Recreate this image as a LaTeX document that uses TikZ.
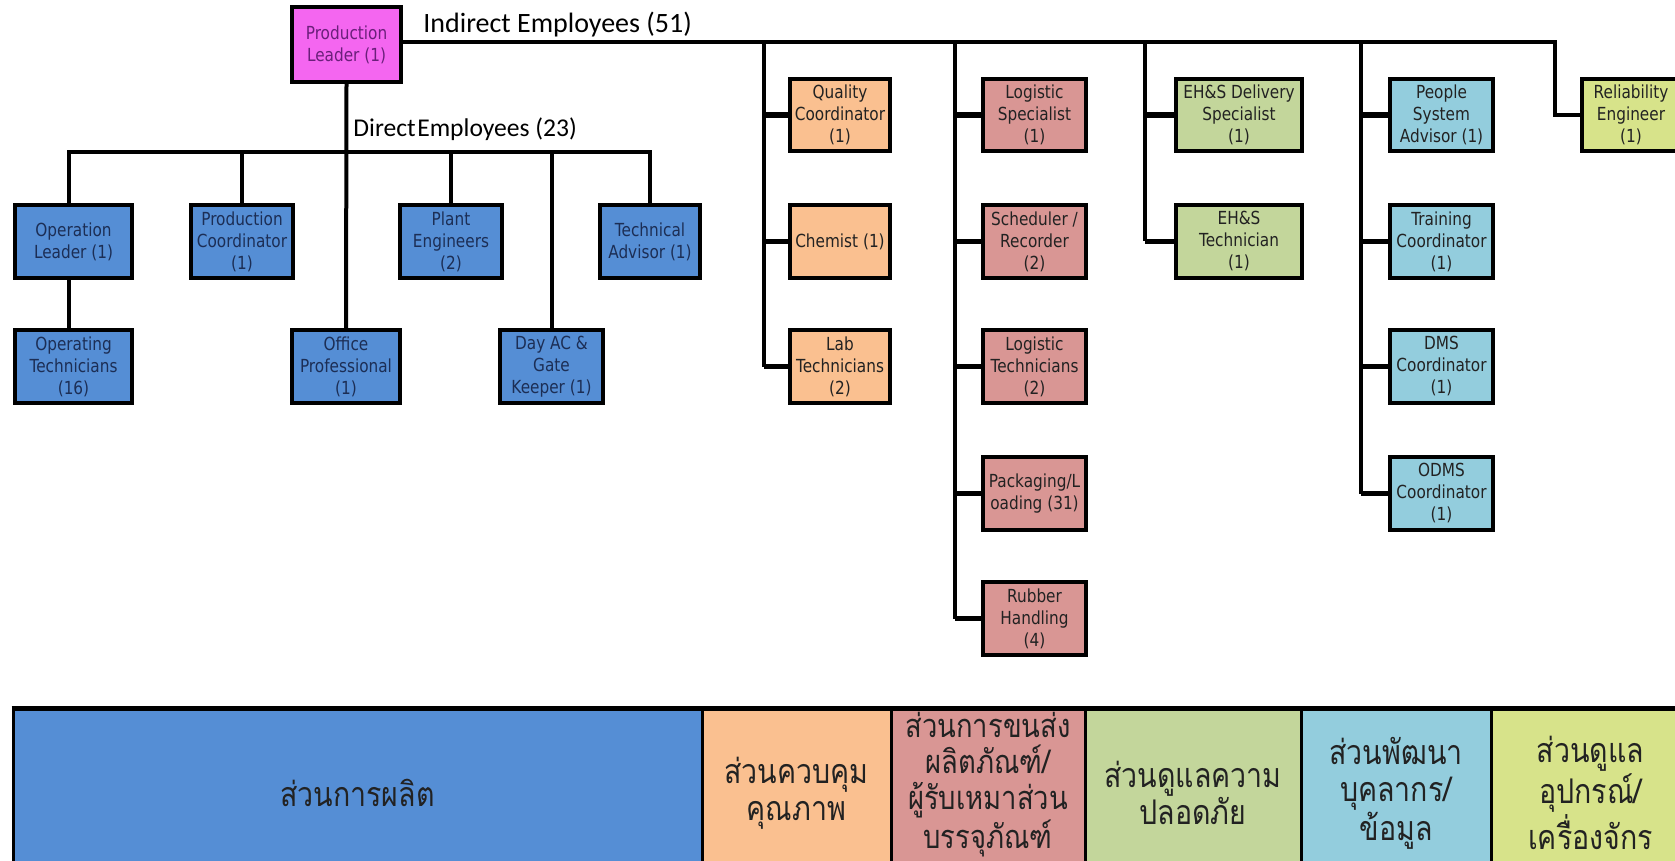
\documentclass[tikz,border=0pt]{standalone}
\usepackage{fontspec}
\newfontfamily\hdrfont{Carlito}
\newfontfamily\boxfont[FakeStretch=0.85]{DejaVu Sans}
\newfontfamily\thaifont[Script=Thai,FakeStretch=0.84]{Loma}
\definecolor{pmag}{HTML}{F466F0}
\definecolor{pblue}{HTML}{558ED5}
\definecolor{porange}{HTML}{FAC090}
\definecolor{pred}{HTML}{D99694}
\definecolor{pgreen}{HTML}{C3D69B}
\definecolor{plblue}{HTML}{93CDDD}
\definecolor{pyellow}{HTML}{D7E38A}
\definecolor{navytext}{HTML}{1C2E55}
\definecolor{purptext}{HTML}{6A1F7A}
\definecolor{darktext}{HTML}{222222}
% box: name, x1, x2, y1, y2, style, text
\newcommand\orgbx[7]{%
  \pgfmathsetmacro\bxw{(#3-#2)*0.5}%
  \pgfmathsetmacro\bxh{(#5-#4)*0.5}%
  \node[orgbox,#6,minimum width=\bxw pt,minimum height=\bxh pt] (#1) at ({(#2+#3)/2},{(#4+#5)/2}) {#7};}
% table cell: name, x1, x2, colour, text-y, text
\newcommand\tcell[6]{%
  \pgfmathsetmacro\bxw{(#3-#2)*0.5}%
  \node[tablecell,fill=#4,minimum width=\bxw pt,minimum height=78pt] (#1) at ({(#2+#3)/2},787) {};
  \node[celltext] (#1txt) at (#1.center |- {(0,#5)}) {#6};}
\begin{document}
\begin{tikzpicture}[x=0.5pt,y=-0.5pt,
  orgbox/.style={draw=black,line width=2.2pt,inner sep=0pt,align=center,
    font=\boxfont\fontsize{9}{11}\selectfont},
  dbox/.style={fill=pblue,text=navytext},
  qbox/.style={fill=porange,text=darktext},
  lbox/.style={fill=pred,text=darktext},
  ebox/.style={fill=pgreen,text=darktext},
  pbox/.style={fill=plblue,text=darktext},
  rbox/.style={fill=pyellow,text=darktext},
  mainline/.style={line width=2pt,draw=black},
  colline/.style={line width=1.6pt,draw=black},
  stubline/.style={line width=2.6pt,draw=black},
  hdr/.style={inner sep=0pt,anchor=base west},
  tablecell/.style={draw=black,line width=1.5pt,inner sep=0pt},
  celltext/.style={inner sep=0pt,align=center,text=darktext,
    font=\thaifont\fontsize{17}{18.5}\selectfont},
  smallcelltext/.style={font=\thaifont\fontsize{16.3}{18}\selectfont}
]
\useasboundingbox (0,0) rectangle (1675,861);
\fill[white] (0,0) rectangle (1675,861);

% top
\orgbx{PL}{292}{401}{7}{82}{fill=pmag,text=purptext}{Production\\Leader (1)}
\node[hdr,font=\hdrfont\fontsize{14}{16}\selectfont] (ind) at (423,33) {Indirect Employees (51)};
\node[hdr,font=\hdrfont\fontsize{12.8}{15}\selectfont] (dir) at (353,137) {Direct\hspace{0.06em}Employees (23)};

% direct employees
\orgbx{OL}{15}{132}{205}{278}{dbox}{Operation\\Leader (1)}
\orgbx{PC}{191}{293}{205}{278}{dbox}{Production\\Coordinator\\(1)}
\orgbx{PE}{400}{502}{205}{278}{dbox}{Plant\\Engineers\\(2)}
\orgbx{TA}{600}{700}{205}{278}{dbox}{Technical\\Advisor (1)}
\orgbx{OT}{15}{132}{330}{403}{dbox}{Operating\\Technicians\\(16)}
\orgbx{OP}{292}{400}{330}{403}{dbox}{Office\\Professional\\(1)}
\orgbx{DA}{500}{603}{330}{403}{dbox}{Day AC \&\\Gate\\Keeper (1)}

% indirect: quality
\orgbx{QC}{790}{890}{79}{151}{qbox}{Quality\\Coordinator\\(1)}
\orgbx{CH}{790}{890}{205}{278}{qbox}{Chemist (1)}
\orgbx{LT}{790}{890}{330}{403}{qbox}{Lab\\Technicians\\(2)}
% logistic
\orgbx{LS}{983}{1086}{79}{151}{lbox}{Logistic\\Specialist\\(1)}
\orgbx{SR}{983}{1086}{205}{278}{lbox}{Scheduler /\\Recorder\\(2)}
\orgbx{LG}{983}{1086}{330}{403}{lbox}{Logistic\\Technicians\\(2)}
\orgbx{PK}{983}{1086}{457}{530}{lbox}{Packaging/L\\oading (31)}
\orgbx{RH}{983}{1086}{582}{655}{lbox}{Rubber\\Handling\\(4)}
% EH&S
\orgbx{ED}{1176}{1302}{79}{151}{ebox}{EH\&S Delivery\\Specialist\\(1)}
\orgbx{ET}{1176}{1302}{205}{278}{ebox}{EH\&S\\Technician\\(1)}
% people
\orgbx{PS}{1390}{1493}{79}{151}{pbox}{People\\System\\Advisor (1)}
\orgbx{TC}{1390}{1493}{205}{278}{pbox}{Training\\Coordinator\\(1)}
\orgbx{DM}{1390}{1493}{330}{403}{pbox}{DMS\\Coordinator\\(1)}
\orgbx{OD}{1390}{1493}{457}{530}{pbox}{ODMS\\Coordinator\\(1)}
% reliability
\orgbx{RE}{1582}{1680}{79}{151}{rbox}{Reliability\\Engineer\\(1)}

% direct connectors
\coordinate (dbus) at (344,152);
\coordinate (oldrop) at (69,205);
\draw[mainline] (oldrop) -- (oldrop |- dbus) -- (TA.north |- dbus) -- (TA.north);
\draw[mainline] (PC.north) -- (PC.north |- dbus);
\draw[mainline] (PE.north) -- (PE.north |- dbus);
\draw[mainline] (DA.north) -- (DA.north |- dbus);
\draw[mainline] (PL.south) -- (OP.north);
\draw[mainline] (OL.south -| oldrop) -- (OT.north -| oldrop);

% indirect connectors
\coordinate (iend) at (1555,42);
\draw[mainline] (PL.east |- iend) -- (iend) |- (RE.west);
\coordinate (qtop) at (764,42);
\coordinate (ltop) at (955,42);
\coordinate (etop) at (1145,42);
\coordinate (ptop) at (1361,42);
\draw[colline] (qtop) -- (qtop |- LT.west);
\draw[colline] (ltop) -- (ltop |- RH.west);
\draw[colline] (etop) -- (etop |- ET.west);
\draw[colline] (ptop) -- (ptop |- OD.west);
\foreach \b in {QC,CH,LT} \draw[stubline] (qtop |- \b.west) -- (\b.west);
\foreach \b in {LS,SR,LG,PK,RH} \draw[stubline] (ltop |- \b.west) -- (\b.west);
\foreach \b in {ED,ET} \draw[stubline] (etop |- \b.west) -- (\b.west);
\foreach \b in {PS,TC,DM,OD} \draw[stubline] (ptop |- \b.west) -- (\b.west);

% bottom table
\tcell{T1}{13}{702}{pblue}{793}{ส่วนการผลิต}
\tcell{T2}{702}{891}{porange}{793}{ส่วนควบคุม\\คุณภาพ}
\pgfmathsetmacro\bxw{(1085-891)*0.5}
\node[tablecell,fill=pred,minimum width=\bxw pt,minimum height=78pt] (T3) at (988,787) {};
\node[celltext,smallcelltext] (T3txt) at (988,785) {ส่วนการขนส่ง\\ผลิตภัณฑ์/\\ผู้รับเหมาส่วน\\บรรจุภัณฑ์};
\tcell{T4}{1085}{1301}{pgreen}{793}{ส่วนดูแลความ\\ปลอดภัย}
\tcell{T5}{1301}{1491}{plblue}{793}{ส่วนพัฒนา\\บุคลากร/\\ข้อมูล}
\tcell{T6}{1491}{1690}{pyellow}{793}{ส่วนดูแล\\อุปกรณ์/\\เครื่องจักร}
\draw[line width=2pt] (T1.north west) -- (T6.north east);
\end{tikzpicture}
\end{document}
